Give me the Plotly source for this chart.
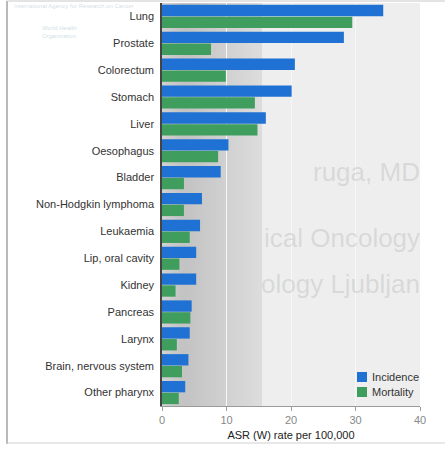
import plotly.graph_objects as go

# Cancer sites, ordered by incidence
sites = [
    "Lung", "Prostate", "Colorectum", "Stomach", "Liver", "Oesophagus",
    "Bladder", "Non-Hodgkin lymphoma", "Leukaemia", "Lip, oral cavity",
    "Kidney", "Pancreas", "Larynx", "Brain, nervous system", "Other pharynx",
]
# Age-standardised rates (World), per 100,000
incidence = [34.3, 28.2, 20.6, 20.1, 16.1, 10.3, 9.1, 6.2, 5.9, 5.3, 5.3, 4.6, 4.3, 4.1, 3.6]
mortality = [29.5, 7.6, 9.9, 14.4, 14.8, 8.7, 3.4, 3.4, 4.3, 2.7, 2.1, 4.4, 2.3, 3.1, 2.6]

series_names = ["Incidence", "Mortality"]
series_colors = ["#1f72d4", "#3f9e5e"]

x_ticks = [0, 10, 20, 30, 40]

W, H = 445, 449
ML, MR, MT, MB = 162, 25, 3, 43
PW, PH = W - ML - MR, H - MT - MB


def px_x(p):
    return (p - ML) / PW


def px_y(p):
    return (H - MB - p) / PH


FONT = "Liberation Sans, Arial, sans-serif"

fig = go.Figure()
for name, vals, col in zip(series_names, [incidence, mortality], series_colors):
    fig.add_trace(go.Bar(
        name=name, y=sites, x=vals, orientation="h",
        marker=dict(color=col, line=dict(width=0)),
        showlegend=False,
    ))

shapes = []
# grey shading band across the low end of the scale (overlapping slices, no seams)
steps = 24
band_end = 15.5
for i in range(steps):
    x0 = band_end * i / steps
    x1 = band_end * (i + 1) / steps + (0.4 if i < steps - 1 else 0)
    t = i / (steps - 1)
    if t < 0.2:
        g = 208 - 14 * (t / 0.2)
    else:
        g = 194 + 26 * ((t - 0.2) / 0.8)
    g = int(round(g))
    shapes.append(dict(
        type="rect", layer="below", xref="x", yref="paper",
        x0=x0, x1=x1, y0=0, y1=1,
        fillcolor=f"rgb({g},{g},{g})", line=dict(width=0),
    ))

# frame around the figure
shapes += [
    dict(type="line", xref="paper", yref="paper",
         x0=px_x(7), x1=px_x(7), y0=px_y(444), y1=px_y(1),
         line=dict(color="#8a8a8a", width=1.2)),
    dict(type="line", xref="paper", yref="paper",
         x0=px_x(7), x1=px_x(445), y0=px_y(1), y1=px_y(1),
         line=dict(color="#c8c8c8", width=1)),
    dict(type="line", xref="paper", yref="paper",
         x0=px_x(7), x1=px_x(445), y0=px_y(443), y1=px_y(443),
         line=dict(color="#d0d0d0", width=1)),
]

annotations = [
    # faint header / logo text
    dict(text="International Agency for Research on Cancer", xref="paper", yref="paper",
         x=px_x(12), y=px_y(6), xanchor="left", yanchor="middle", showarrow=False,
         font=dict(family=FONT, size=6, color="rgba(150,175,195,0.45)")),
    dict(text="World Health<br>Organization", xref="paper", yref="paper",
         x=px_x(40), y=px_y(32), xanchor="left", yanchor="middle", showarrow=False,
         align="left", font=dict(family=FONT, size=6, color="rgba(120,170,190,0.4)")),
]
# faint print-through lettering
for txt, py in [("ruga, MD", 172), ("ical Oncology", 238), ("ology Ljubljan", 284)]:
    annotations.append(dict(
        text=txt, xref="paper", yref="paper", x=px_x(422), y=px_y(py),
        xanchor="right", yanchor="middle", showarrow=False,
        font=dict(family=FONT, size=26, color="rgba(140,140,140,0.22)"),
    ))

# legend: colour keys with labels
for k, (name, col) in enumerate(zip(series_names, series_colors)):
    cy = 377 + 15 * k
    shapes.append(dict(
        type="rect", xref="paper", yref="paper",
        x0=px_x(357), x1=px_x(367), y0=px_y(cy + 5), y1=px_y(cy - 5),
        fillcolor=col, line=dict(width=0),
    ))
    annotations.append(dict(
        text=name, xref="paper", yref="paper", x=px_x(370), y=px_y(cy),
        xanchor="left", yanchor="middle", showarrow=False,
        font=dict(family=FONT, size=11, color="#333333"),
    ))

fig.update_layout(
    width=W, height=H,
    margin=dict(l=ML, r=MR, t=MT, b=MB, pad=0),
    paper_bgcolor="white",
    plot_bgcolor="#eeeeee",
    barmode="group",
    bargap=0.12,
    bargroupgap=0.04,
    font=dict(family=FONT, size=11, color="#333333"),
    showlegend=False,
    shapes=shapes,
    annotations=annotations,
)

fig.update_xaxes(
    range=[0, 40], tickvals=x_ticks, ticktext=[str(v) for v in x_ticks],
    showgrid=True, gridcolor="#f7f7f7", gridwidth=1, zeroline=False,
    showline=True, linecolor="#9a9a9a", linewidth=1,
    ticks="outside", ticklen=4, tickcolor="#9a9a9a",
    tickfont=dict(family=FONT, size=11, color="#888888"),
    title=dict(text="ASR (W) rate per 100,000", standoff=6,
               font=dict(family=FONT, size=11, color="#222222")),
)
fig.update_yaxes(
    categoryorder="array", categoryarray=sites, autorange="reversed",
    showgrid=False, zeroline=False,
    showline=True, linecolor="#444444", linewidth=1.5,
    ticks="", ticklabelstandoff=4,
    tickfont=dict(family=FONT, size=11, color="#333333"),
)

fig.write_html("out.html")
